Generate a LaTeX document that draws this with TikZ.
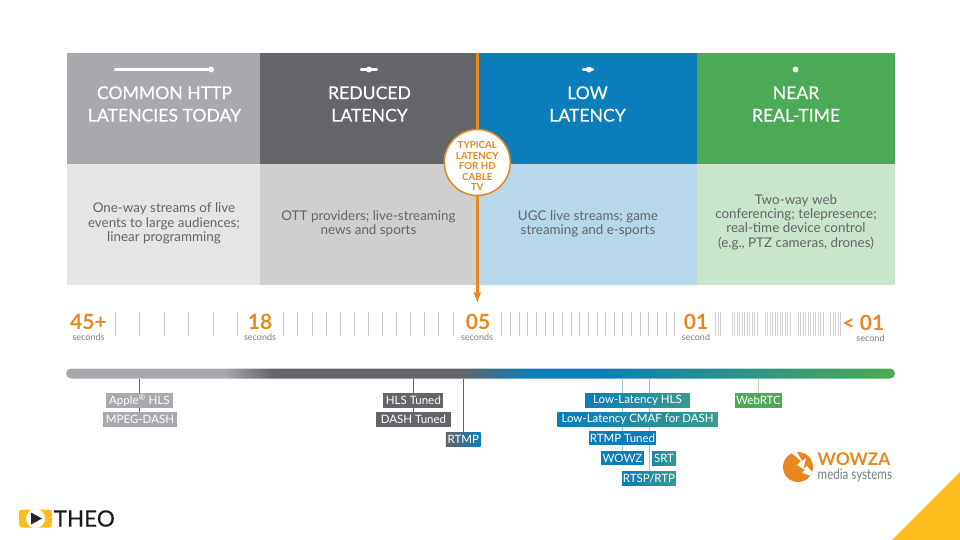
\documentclass[tikz,border=0pt]{standalone}
\usepackage{fontspec}
\setmainfont{Lato}
\newfontfamily\headfont[FakeBold=0.35]{Lato}
\usetikzlibrary{backgrounds}
\definecolor{latgray}{HTML}{A7A9AC}
\definecolor{latdark}{HTML}{636569}
\definecolor{latblue}{HTML}{0A7DBA}
\definecolor{latteal}{HTML}{3A9A8C}
\definecolor{latgreen}{HTML}{4AAA55}
\definecolor{latorange}{HTML}{E8871E}
\definecolor{latyellow}{HTML}{FDBE1B}
\pgfdeclarehorizontalshading{latbar}{100bp}{
  color(0bp)=(latgray); color(34.5bp)=(latgray); color(37.5bp)=(latdark);
  color(48.8bp)=(latdark); color(53bp)=(latblue); color(56.6bp)=(latblue);
  color(74.5bp)=(latgreen); color(100bp)=(latgreen)}
\begin{document}
\begin{tikzpicture}[
  x=1pt,y=-1pt,
  panel/.style={inner sep=0pt,outer sep=0pt},
  head/.style={font=\headfont\fontsize{17.6}{22.5}\selectfont,text=white,align=center},
  body/.style={font=\fontsize{13.4}{14.3}\selectfont,text=latdark,align=center},
  num/.style={font=\fontsize{21}{21}\selectfont\bfseries,text=latorange},
  unit/.style={font=\fontsize{9}{9}\selectfont,text=latdark!85},
  tick/.style={line width=0.7pt,draw=gray!45},
  finetick/.style={line width=0.5pt,draw=gray!35},
  proto/.style={font=\fontsize{11.5}{11.5}\selectfont,text=white,inner sep=0pt,minimum height=14.4pt,outer sep=0pt},
  fade/.style={left color=latblue,middle color=latblue!75!latteal,right color=latteal},
  stem/.style={line width=0.7pt,draw=latdark},
  stemlight/.style={line width=0.7pt,draw=latblue!45!white},
  icon/.style={line width=2.2pt,draw=white,line cap=round},
  icondot/.style={circle,fill=white,inner sep=2.1pt}
]
\useasboundingbox (0,0) rectangle (960,540);

% ---- Panels ----
\fill[latgray] (67,53) rectangle (260,164);
\fill[latdark] (260,53) rectangle (477,164);
\fill[latblue] (477,53) rectangle (697,164);
\fill[latgreen] (697,53) rectangle (895,164);
\fill[black!10] (67,164) rectangle (260,285);
\fill[black!19] (260,164) rectangle (477,285);
\fill[latblue!30] (477,164) rectangle (697,285);
\fill[latgreen!30] (697,164) rectangle (895,285);

% Width icons
\draw[icon] (115,69.5) -- (211,69.5);
\node[icondot] (iconcommon) at (211,69.5) {};
\draw[icon] (361,69.5) -- (377,69.5);
\node[icondot] (iconreduced) at (369,69.5) {};
\draw[icon] (583,69.5) -- (593,69.5);
\node[icondot] (iconlow) at (589,69.5) {};
\node[icondot] (iconnear) at (795.5,69.5) {};

\node[head] (common) at (164.5,104) {COMMON HTTP\\LATENCIES TODAY};
\node[head] (reduced) at (369.5,104) {REDUCED\\LATENCY};
\node[head] (low) at (587.5,104) {LOW\\LATENCY};
\node[head] (near) at (796,104) {NEAR\\REAL-TIME};

\node[body] (commontxt) at (164,223.5) {One-way streams of live\\events to large audiences;\\linear programming};
\node[body] (reducedtxt) at (368.5,223.5) {OTT providers; live-streaming\\news and sports};
\node[body] (lowtxt) at (588,223.5) {UGC live streams; game\\streaming and e-sports};
\node[body] (neartxt) at (796,222) {Two-way web\\conferencing; telepresence;\\real-time device control\\(e.g., PTZ cameras, drones)};

% Typical latency marker
\coordinate (marktop) at (477.3,53);
\coordinate (markend) at (477.3,303);
\draw[latorange,line width=2.6pt,-latex] (marktop) -- (markend);
\node[circle,draw=latorange,line width=1.5pt,fill=white,minimum size=66pt,inner sep=0pt] (typical) at (477.3,162.5) {};
\node[font=\fontsize{9.7}{10.5}\selectfont\bfseries,text=latorange,align=center] (typicaltxt) at (477.3,166)
  {TYPICAL\\LATENCY\\FOR HD\\CABLE\\TV};

% ---- Scale ----
\foreach \x in {115.3,139.7,...,238}
  \draw[tick] (\x,312) -- (\x,336);
\foreach \x in {283.7,297.8,...,454}
  \draw[tick] (\x,312) -- (\x,336);
\foreach \x in {501.7,510.35,...,675.5}
  \draw[tick] (\x,312) -- (\x,336);
\foreach \x in {715.5,718,720.5,
                732,734.5,...,757.5,
                765,767.5,...,790.5,
                798,800.5,...,823.5,
                830.5,833,...,841.5}
  \draw[finetick] (\x,312) -- (\x,336);

\node[num] (sec45) at (88.5,321.5) {45+};
\node[num] (sec18) at (260,321.5) {18};
\node[num] (sec05) at (478,321.5) {05};
\node[num] (sec01) at (696,321.5) {01};
\node[num] (secless) at (863.5,322.5) {< 01};
\node[unit] (unit45) at (88.5,337) {seconds};
\node[unit] (unit18) at (260,337) {seconds};
\node[unit] (unit05) at (477,337) {seconds};
\node[unit] (unit01) at (696,337) {second};
\node[unit] (unitless) at (870.5,338) {second};

% ---- Gradient bar ----
\node[panel,shading=latbar,rounded corners=5pt,minimum width=829pt,minimum height=10pt] (bar) at (480.5,373.5) {};

% ---- Protocols ----
\node[proto,fill=latgray,minimum width=66.7pt] (apple) at (139.4,400.5) {Apple\textsuperscript{®} HLS};
\node[proto,fill=latgray,minimum width=74pt] (mpeg) at (140,419.5) {MPEG-DASH};
\node[proto,fill=latdark,minimum width=60pt] (hlstuned) at (413.3,400.5) {HLS Tuned};
\node[proto,fill=latdark,minimum width=75pt] (dashtuned) at (413.5,419.5) {DASH Tuned};
\node[proto,left color=latdark,middle color=latdark!85!latblue,right color=latblue,minimum width=34.7pt] (rtmp) at (463.3,439.5) {RTMP};
\node[proto,fade,minimum width=105pt] (llhls) at (637.5,400.5) {Low-Latency HLS};
\node[proto,fade,minimum width=160.7pt] (cmaf) at (637.6,419.5) {Low-Latency CMAF for DASH};
\node[proto,fill=latblue,minimum width=67pt] (rtmptuned) at (622.5,438.2) {RTMP Tuned};
\node[proto,fill=latblue,minimum width=43pt] (wowz) at (622.5,458.2) {WOWZ};
\node[proto,left color=latblue!70!latteal,right color=latteal,minimum width=24pt] (srt) at (664,458.2) {SRT};
\node[proto,fade,minimum width=54pt] (rtsp) at (649,478.2) {RTSP/RTP};
\node[proto,fill=latgreen,minimum width=47pt] (webrtc) at (758.5,400.5) {WebRTC};

\begin{scope}[on background layer]
  \draw[stem] (apple.north) -- (apple.north |- bar.south);
  \draw[stem] (apple.south) -- (mpeg.north -| apple.south);
  \draw[stem] (hlstuned.north) -- (hlstuned.north |- bar.south);
  \draw[stem] (hlstuned.south) -- (dashtuned.north -| hlstuned.south);
  \draw[stem] (rtmp.north) -- (rtmp.north |- bar.south);
  \draw[stemlight] (wowz.north) -- (wowz.north |- bar.south);
  \draw[stemlight] (rtsp.north) -- (rtsp.north |- bar.south);
  \draw[stemlight,draw=latgreen!40!white] (webrtc.north) -- (webrtc.north |- bar.south);
\end{scope}

% ---- Wowza logo ----
\fill[latorange] (798,467) circle (15pt);
\fill[white] (791,452.5) -- (801,461) -- (797,465) -- (805,470) -- (802,473) -- (816,477)
  -- (807,466) -- (803.5,469) -- (806,458) -- (802,461) -- (797,452) -- cycle;
\node[font=\fontsize{17.4}{17.4}\selectfont\bfseries,text=latorange,anchor=west,inner sep=0pt] (wowza) at (817.5,459) {WOWZA};
\node[font=\fontsize{14.5}{14.5}\selectfont,text=latdark!85,anchor=west,inner sep=0pt] (media) at (817.5,475.5) {\scalebox{0.8}[1]{media systems}};

% ---- Corner and THEO logo ----
\fill[latyellow] (892,540) -- (960,472) -- (960,540) -- cycle;
\fill[latyellow,rounded corners=3pt] (19,509.5) rectangle (52,527.5);
\fill[white] (35.5,518.5) circle (9.5pt);
\fill[black!85] (31,512.5) -- (42,518.5) -- (31,524.5) -- cycle;
\node[font=\headfont\fontsize{22.5}{22.5}\selectfont,text=black!90,anchor=west,inner sep=0pt] (theo) at (53.5,518.5) {THEO};

\end{tikzpicture}
\end{document}
